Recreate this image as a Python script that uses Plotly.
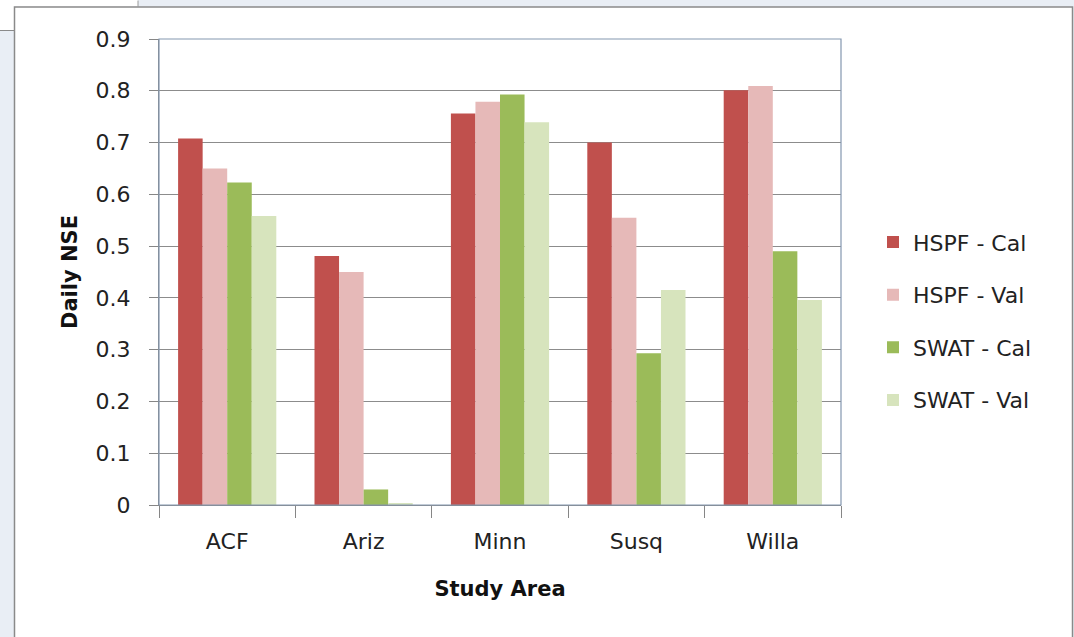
import plotly.graph_objects as go

# Daily Nash-Sutcliffe efficiency by study area and model run
areas = ["ACF", "Ariz", "Minn", "Susq", "Willa"]
series_names = ["HSPF - Cal", "HSPF - Val", "SWAT - Cal", "SWAT - Val"]
hspf_cal = [0.708, 0.481, 0.756, 0.700, 0.801]
hspf_val = [0.650, 0.450, 0.779, 0.555, 0.809]
swat_cal = [0.623, 0.030, 0.793, 0.293, 0.490]
swat_val = [0.558, 0.003, 0.739, 0.415, 0.396]
y_ticks = [0, 0.1, 0.2, 0.3, 0.4, 0.5, 0.6, 0.7, 0.8, 0.9]
y_tick_text = ["0", "0.1", "0.2", "0.3", "0.4", "0.5", "0.6", "0.7", "0.8", "0.9"]

colors = ["#c0504d", "#e6b9b8", "#9bbb59", "#d7e4bd"]
values = [hspf_cal, hspf_val, swat_cal, swat_val]

W, H = 1074, 637
L, R, T, B = 159, 841, 38.5, 505  # plot area in pixels


def px_x(x):
    return (x - L) / (R - L)


def px_y(y):
    return (B - y) / (B - T)


fig = go.Figure()
for name, vals, col in zip(series_names, values, colors):
    fig.add_trace(go.Bar(
        x=areas, y=vals, name=name, marker_color=col,
        marker_line_width=0, legendgroup=name,
    ))

tick_font = dict(family="DejaVu Sans, sans-serif", size=22, color="#222222")
title_font = dict(family="DejaVu Sans, sans-serif", size=21, color="#111111")

shapes = [
    # window frame behind the chart
    dict(type="rect", xref="paper", yref="paper", layer="below",
         x0=px_x(-5), x1=px_x(138), y0=px_y(6), y1=px_y(-5),
         fillcolor="white", line_width=0),
    dict(type="rect", xref="paper", yref="paper", layer="below",
         x0=px_x(-5), x1=px_x(14), y0=px_y(30), y1=px_y(-5),
         fillcolor="white", line_width=0),
    dict(type="line", xref="paper", yref="paper", layer="below",
         x0=px_x(0), x1=px_x(14), y0=px_y(30), y1=px_y(30),
         line=dict(color="#8a8a8a", width=1)),
    dict(type="line", xref="paper", yref="paper", layer="below",
         x0=px_x(138), x1=px_x(138), y0=px_y(0), y1=px_y(6),
         line=dict(color="#9a9a9a", width=1)),
    dict(type="rect", xref="paper", yref="paper", layer="below",
         x0=px_x(14.5), x1=px_x(1072.5), y0=px_y(650), y1=px_y(6.5),
         fillcolor="white", line=dict(color="#8a8a8a", width=1.5)),
    # plot area border
    dict(type="rect", xref="paper", yref="paper", layer="above",
         x0=0, x1=1, y0=0, y1=1,
         line=dict(color="#8497b0", width=1.2)),
]

fig.update_layout(
    width=W, height=H,
    margin=dict(l=L, r=W - R, t=T, b=H - B),
    paper_bgcolor="#e9eef5",
    plot_bgcolor="white",
    barmode="group",
    bargap=0.28,
    bargroupgap=0,
    showlegend=True,
    legend=dict(
        x=px_x(873), y=px_y(221), xanchor="left", yanchor="top",
        font=dict(family="DejaVu Sans, sans-serif", size=22, color="#222222"),
        tracegroupgap=21, traceorder="grouped",
        bgcolor="rgba(0,0,0,0)", itemwidth=30,
    ),
    shapes=shapes,
    xaxis=dict(
        showline=True, linecolor="#868686", linewidth=1.2,
        ticks="outside", tickson="boundaries", ticklen=12,
        tickcolor="#868686", tickwidth=1.2,
        tickfont=tick_font, ticklabelstandoff=16,
        title=dict(text="<b>Study Area</b>", font=title_font, standoff=28),
        showgrid=False,
    ),
    yaxis=dict(
        range=[0, 0.9], tickvals=y_ticks, ticktext=y_tick_text,
        showline=True, linecolor="#868686", linewidth=1.2,
        ticks="outside", ticklen=9, tickcolor="#868686", tickwidth=1.2,
        tickfont=tick_font, ticklabelstandoff=14,
        showgrid=True, gridcolor="#8c8c8c", gridwidth=1,
        zeroline=False,
        title=dict(text="<b>Daily NSE</b>", font=title_font, standoff=12),
    ),
)

fig.write_html("out.html")
